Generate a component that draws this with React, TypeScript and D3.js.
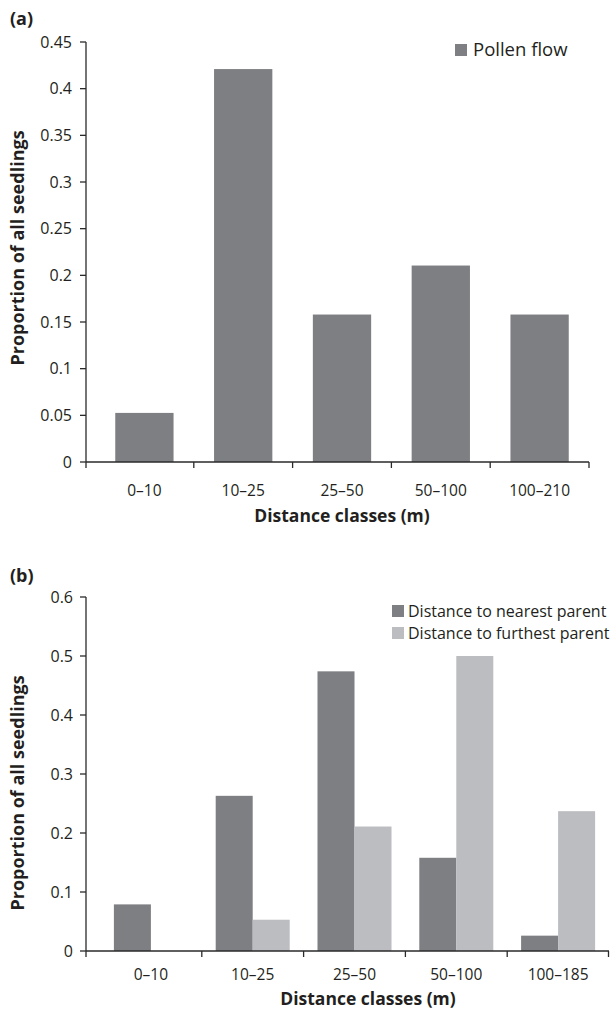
import React from "react";
import * as d3 from "d3";

const categoriesA = ["0–10", "10–25", "25–50", "50–100", "100–210"];
const pollenFlow = [0.0526, 0.421, 0.158, 0.2105, 0.158];
const ticksA = [0, 0.05, 0.1, 0.15, 0.2, 0.25, 0.3, 0.35, 0.4, 0.45];

const categoriesB = ["0–10", "10–25", "25–50", "50–100", "100–185"];
const nearestParent = [0.079, 0.263, 0.474, 0.158, 0.026];
const furthestParent = [0, 0.053, 0.211, 0.5, 0.237];
const ticksB = [0, 0.1, 0.2, 0.3, 0.4, 0.5, 0.6];
const seriesB = ["Distance to nearest parent", "Distance to furthest parent"];

const DARK = "#7e7f83";
const LIGHT = "#bcbdc1";
const TEXT = "#231f20";
const AXIS = "#2a2a2a";
const FONT = "'Open Sans', 'Noto Sans', sans-serif";

const fmt = (v: number) => (v === 0 ? "0" : String(+v.toFixed(2)));

export default function App() {
  // Panel A
  const axA = 86;
  const yA = d3.scaleLinear().domain([0, 0.45]).range([462, 42]);
  const xA = d3.scaleBand<string>().domain(categoriesA).range([95, 589]).paddingInner(0.41).paddingOuter(0.205);
  const stepA = xA.step();
  const bandStartA = 95;

  // Panel B
  const axB = 86;
  const yB = d3.scaleLinear().domain([0, 0.6]).range([951, 597]);
  const xB = d3.scaleBand<string>().domain(categoriesB).range([100, 609]).paddingInner(0.273).paddingOuter(0.1365);
  const xInner = d3.scaleBand<number>().domain([0, 1]).range([0, xB.bandwidth()]);
  const stepB = xB.step();
  const bandStartB = 100;

  return (
    <svg width={610} height={1010} style={{ position: "absolute", left: 0, top: 0, background: "#fff" }} fontFamily={FONT}>
      <rect x={0} y={0} width={610} height={1010} fill="#fff" />
      {/* ---------- Panel A ---------- */}
      <text x={10} y={25} fontSize={18} fontWeight="bold" fill={TEXT}>(a)</text>
      {pollenFlow.map((v, i) => (
        <rect key={i} x={xA(categoriesA[i])} y={yA(v)} width={xA.bandwidth()} height={yA(0) - yA(v)} fill={DARK} />
      ))}
      <line x1={axA} x2={axA} y1={yA(0.45)} y2={yA(0)} stroke={AXIS} strokeWidth={1.3} />
      {ticksA.map((t) => (
        <g key={t}>
          <line x1={axA - 6} x2={axA} y1={yA(t)} y2={yA(t)} stroke={AXIS} strokeWidth={1.3} />
          <text x={72} y={yA(t)} dy="0.35em" textAnchor="end" fontSize={16} fill={TEXT}>{fmt(t)}</text>
        </g>
      ))}
      <line x1={axA} x2={589} y1={yA(0)} y2={yA(0)} stroke={AXIS} strokeWidth={1.3} />
      {[axA, ...categoriesA.map((_, i) => bandStartA + stepA * (i + 1))].map((x, i) => (
        <line key={i} x1={x} x2={x} y1={yA(0)} y2={yA(0) + 6} stroke={AXIS} strokeWidth={1.3} />
      ))}
      {categoriesA.map((c) => (
        <text key={c} x={(xA(c) as number) + xA.bandwidth() / 2} y={496} textAnchor="middle" fontSize={15.5} fill={TEXT}>{c}</text>
      ))}
      <text x={342} y={522} textAnchor="middle" fontSize={17.5} fontWeight="bold" fill={TEXT}>Distance classes (m)</text>
      <text transform={`translate(24,248) rotate(-90)`} textAnchor="middle" fontSize={18} fontWeight="bold" fill={TEXT}>Proportion of all seedlings</text>
      <rect x={455} y={44} width={12} height={12} fill={DARK} />
      <text x={473} y={56} fontSize={18.5} fill={TEXT}>Pollen flow</text>

      {/* ---------- Panel B ---------- */}
      <text x={10} y={582} fontSize={18} fontWeight="bold" fill={TEXT}>(b)</text>
      {categoriesB.map((c, i) => (
        <g key={c}>
          {[nearestParent[i], furthestParent[i]].map((v, j) => (
            <rect key={j} x={(xB(c) as number) + (xInner(j) as number)} y={yB(v)} width={xInner.bandwidth()} height={yB(0) - yB(v)} fill={j === 0 ? DARK : LIGHT} />
          ))}
        </g>
      ))}
      <line x1={axB} x2={axB} y1={yB(0.6)} y2={yB(0)} stroke={AXIS} strokeWidth={1.3} />
      {ticksB.map((t) => (
        <g key={t}>
          <line x1={axB - 6} x2={axB} y1={yB(t)} y2={yB(t)} stroke={AXIS} strokeWidth={1.3} />
          <text x={73} y={yB(t)} dy="0.35em" textAnchor="end" fontSize={16} fill={TEXT}>{fmt(t)}</text>
        </g>
      ))}
      <line x1={axB} x2={609} y1={yB(0)} y2={yB(0)} stroke={AXIS} strokeWidth={1.3} />
      {[axB, ...categoriesB.map((_, i) => bandStartB + stepB * (i + 1))].map((x, i) => (
        <line key={i} x1={Math.min(x, 608.5)} x2={Math.min(x, 608.5)} y1={yB(0)} y2={yB(0) + 6} stroke={AXIS} strokeWidth={1.3} />
      ))}
      {categoriesB.map((c) => (
        <text key={c} x={(xB(c) as number) + xB.bandwidth() / 2} y={980} textAnchor="middle" fontSize={15.5} fill={TEXT}>{c}</text>
      ))}
      <text x={368} y={1005} textAnchor="middle" fontSize={17.5} fontWeight="bold" fill={TEXT}>Distance classes (m)</text>
      <text transform={`translate(24,793) rotate(-90)`} textAnchor="middle" fontSize={18} fontWeight="bold" fill={TEXT}>Proportion of all seedlings</text>
      {seriesB.map((s, i) => (
        <g key={s}>
          <rect x={392} y={605 + i * 22} width={12} height={12} fill={i === 0 ? DARK : LIGHT} />
          <text x={408} y={617 + i * 22} fontSize={16} fill={TEXT}>{s}</text>
        </g>
      ))}
    </svg>
  );
}
